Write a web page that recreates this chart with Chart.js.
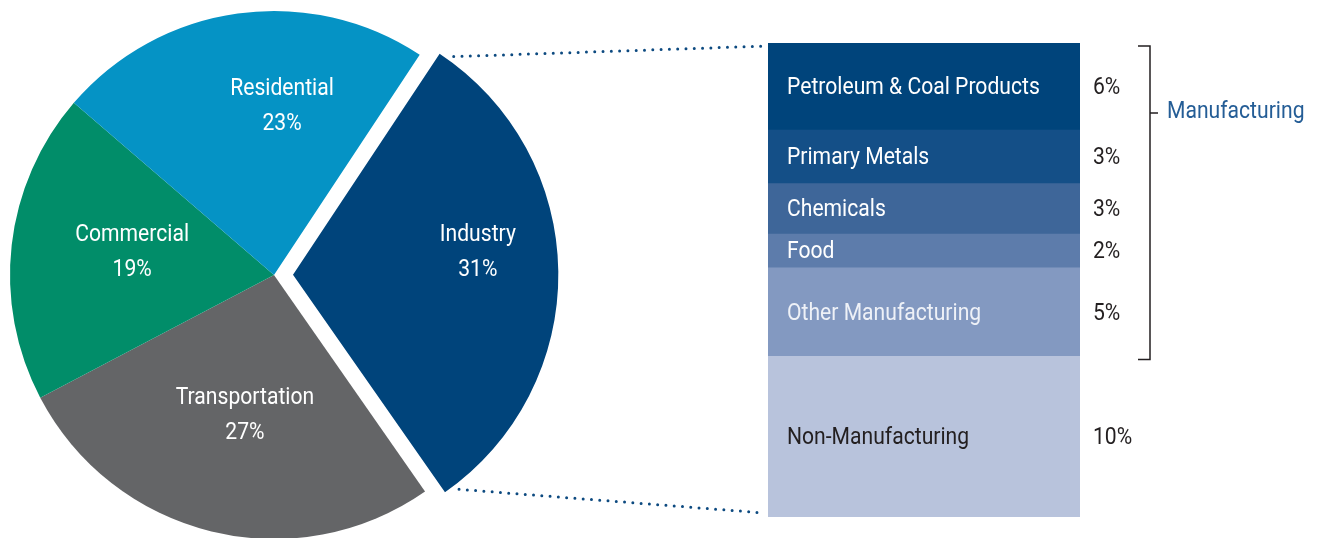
<!DOCTYPE html>
<html>
<head>
<meta charset="utf-8">
<script src="https://cdn.jsdelivr.net/npm/chart.js@4.4.1/dist/chart.umd.min.js"></script>
<style>
    html, body { margin: 0; padding: 0; background: #fff; overflow: hidden; }
    #wrap { position: relative; width: 1319px; height: 538px; }
    canvas { position: absolute; top: 0; }
    #pieChart { left: 0; }
    #barChart { left: 768px; }
</style>
</head>
<body>
<div id="wrap">
    <canvas id="pieChart" width="1319" height="538"></canvas>
    <canvas id="barChart" width="551" height="538"></canvas>
</div>
<script>
// Sector shares (%), clockwise starting with Industry
const sectors = ['Industry', 'Transportation', 'Commercial', 'Residential'];
const sectorShare = [31, 27, 19, 23];
const sectorColors = ['#00447b', '#646567', '#018d69', '#0593c5'];

// Industry breakdown, top to bottom
const segments = ['Petroleum & Coal Products', 'Primary Metals', 'Chemicals', 'Food', 'Other Manufacturing', 'Non-Manufacturing'];
const segmentShare = [5.7, 3.5, 3.3, 2.2, 5.8, 10.5];
const segmentLabels = ['6%', '3%', '3%', '2%', '5%', '10%'];
const segmentColors = ['#00447b', '#144f87', '#3e6699', '#5d7cab', '#8399c1', '#b8c3dc'];
const segmentText = ['#ffffff', '#ffffff', '#ffffff', '#ffffff', '#eef1f7', '#231f20'];

const FONT = '24px Roboto, "Liberation Sans", sans-serif';
const SQUEEZE = 0.88; // fake a condensed face
const BAR = { left: 768, top: 43, width: 312, height: 474 };

function narrowText(ctx, text, x, y, align) {
    ctx.save();
    ctx.translate(x, y + 1.5);
    ctx.scale(SQUEEZE, 1);
    ctx.textAlign = align;
    ctx.fillText(text, 0, 0);
    ctx.restore();
}

// Labels inside pie slices + dotted connectors to the bar
const pieExtras = {
    id: 'pieExtras',
    afterDraw(chart, args, opts) {
        const ctx = chart.ctx;
        const meta = chart.getDatasetMeta(0);
        ctx.save();
        ctx.font = FONT;
        ctx.fillStyle = '#ffffff';
        ctx.textBaseline = 'middle';
        meta.data.forEach((arc, i) => {
            const p = arc.getProps(['x', 'y', 'startAngle', 'endAngle', 'outerRadius']);
            const mid = (p.startAngle + p.endAngle) / 2;
            const shift = (arc.options.offset || 0) / 4;
            const cx = p.x + Math.cos(mid) * shift;
            const cy = p.y + Math.sin(mid) * shift;
            const n = opts.nudge[i];
            const a = mid + n.da * Math.PI / 180;
            const lx = cx + Math.cos(a) * p.outerRadius * n.f;
            const ly = cy + Math.sin(a) * p.outerRadius * n.f;
            narrowText(ctx, sectors[i], lx, ly - 17.5, 'center');
            narrowText(ctx, sectorShare[i] + '%', lx, ly + 17.5, 'center');
        });

        // connectors from the Industry slice
        const ind = meta.data[0];
        const p = ind.getProps(['x', 'y', 'startAngle', 'endAngle', 'outerRadius']);
        const mid = (p.startAngle + p.endAngle) / 2;
        const shift = (ind.options.offset || 0) / 4;
        const cx = p.x + Math.cos(mid) * shift;
        const cy = p.y + Math.sin(mid) * shift;
        const top = [cx + Math.cos(p.startAngle) * p.outerRadius, cy + Math.sin(p.startAngle) * p.outerRadius];
        const bot = [cx + Math.cos(p.endAngle) * p.outerRadius, cy + Math.sin(p.endAngle) * p.outerRadius];
        ctx.strokeStyle = '#0d4a80';
        ctx.lineWidth = 3;
        ctx.lineCap = 'round';
        ctx.setLineDash([0, 8.3]);
        ctx.beginPath();
        ctx.moveTo(top[0] + 15, top[1] + 2);
        ctx.lineTo(BAR.left - 2, BAR.top + 3);
        ctx.moveTo(bot[0] + 15, bot[1] - 2);
        ctx.lineTo(BAR.left - 3, BAR.top + BAR.height - 4);
        ctx.stroke();
        ctx.restore();
    }
};

new Chart(document.getElementById('pieChart'), {
    type: 'pie',
    data: {
        labels: sectors,
        datasets: [{
            data: sectorShare,
            backgroundColor: sectorColors,
            borderWidth: 0,
            offset: [76, 0, 0, 0],
            radius: 264,
            rotation: 33.5
        }]
    },
    options: {
        responsive: false,
        animation: false,
        layout: { padding: { left: 0, right: 771, top: 12, bottom: 0 } },
        plugins: {
            legend: { display: false },
            tooltip: { enabled: false },
            pieExtras: {
                nudge: [
                    { da: -6.7, f: 0.706 },
                    { da: -1.9, f: 0.538 },
                    { da: 3.1, f: 0.545 },
                    { da: 10.6, f: 0.644 }
                ]
            }
        }
    },
    plugins: [pieExtras]
});

// Segment names, percentages and the Manufacturing bracket
const barExtras = {
    id: 'barExtras',
    afterDraw(chart) {
        const ctx = chart.ctx;
        const area = chart.chartArea;
        const n = segments.length;
        ctx.save();
        ctx.font = FONT;
        ctx.textBaseline = 'middle';
        let manuBottom = area.top;
        for (let i = 0; i < n; i++) {
            // datasets are stacked bottom-up, segments listed top-down
            const el = chart.getDatasetMeta(n - 1 - i).data[0];
            const yMid = (el.y + el.base) / 2;
            ctx.fillStyle = segmentText[i];
            narrowText(ctx, segments[i], area.left + 19, yMid, 'left');
            ctx.fillStyle = '#231f20';
            narrowText(ctx, segmentLabels[i], area.right + 13, yMid, 'left');
            if (i === n - 2) manuBottom = el.base;
        }

        const bx = area.right + 70;
        const y0 = area.top + 3;
        const y1 = manuBottom + 3;
        const ym = area.top + 70;
        ctx.strokeStyle = '#231f20';
        ctx.lineWidth = 1.5;
        ctx.beginPath();
        ctx.moveTo(bx - 12, y0);
        ctx.lineTo(bx, y0);
        ctx.lineTo(bx, y1);
        ctx.lineTo(bx - 12, y1);
        ctx.moveTo(bx, ym);
        ctx.lineTo(bx + 8, ym);
        ctx.stroke();

        ctx.fillStyle = '#245d96';
        narrowText(ctx, 'Manufacturing', bx + 17, ym - 3, 'left');
        ctx.restore();
    }
};

const total = segmentShare.reduce((a, b) => a + b, 0);

new Chart(document.getElementById('barChart'), {
    type: 'bar',
    data: {
        labels: ['Industry'],
        datasets: segments.map((s, i) => ({
            label: s,
            data: [segmentShare[i]],
            backgroundColor: segmentColors[i],
            borderWidth: 0,
            barPercentage: 1,
            categoryPercentage: 1
        })).reverse()
    },
    options: {
        responsive: false,
        animation: false,
        layout: { padding: { left: 0, right: 239, top: 43, bottom: 21 } },
        scales: {
            x: { display: false, stacked: true },
            y: { display: false, stacked: true, min: 0, max: total }
        },
        plugins: {
            legend: { display: false },
            tooltip: { enabled: false }
        }
    },
    plugins: [barExtras]
});
</script>
</body>
</html>
